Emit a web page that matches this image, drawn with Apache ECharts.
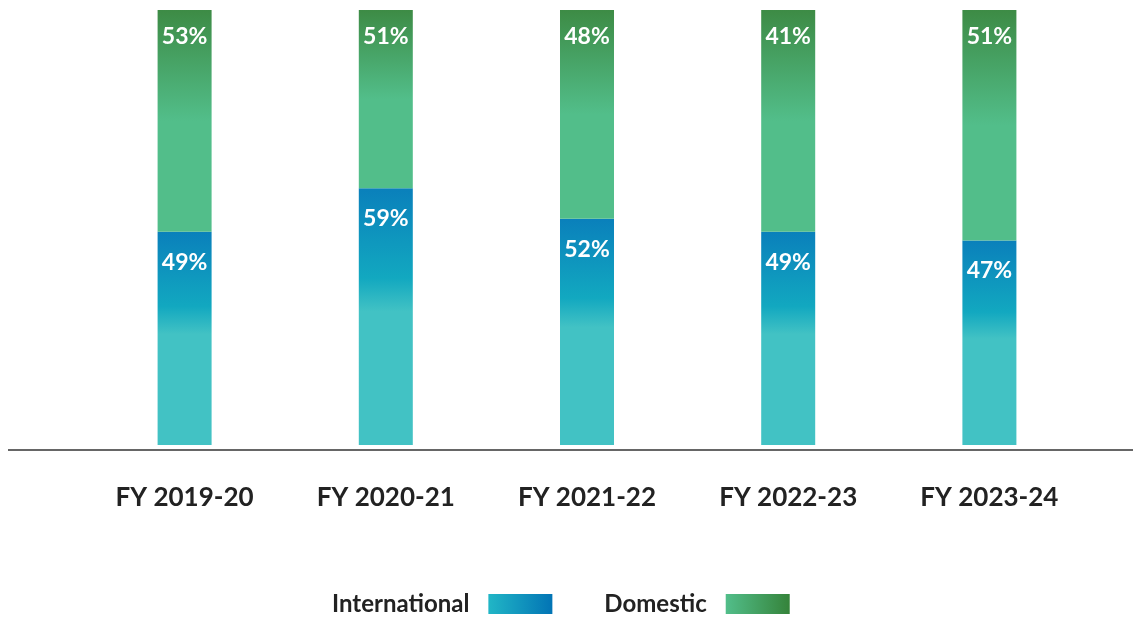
<!DOCTYPE html>
<html>
<head>
<meta charset="utf-8">
<script src="https://cdn.jsdelivr.net/npm/echarts@6/dist/echarts.min.js"></script>
<style>
  html, body { margin: 0; padding: 0; background: #fff; }
  #main { width: 1133px; height: 617px; }
</style>
</head>
<body>
<div id="main"></div>
<script>
// fiscal years
let years = ['FY 2019-20', 'FY 2020-21', 'FY 2021-22', 'FY 2022-23', 'FY 2023-24'];
// international share (drawn height of the lower part)
let international = [49, 59, 52, 49, 47];
// domestic share as printed on the bars
let domestic = [53, 51, 48, 41, 51];

let font = 'Lato, "Noto Sans", sans-serif';

function vgrad(stops) {
  return new echarts.graphic.LinearGradient(0, 0, 0, 1, stops);
}
function hgrad(a, b) {
  return new echarts.graphic.LinearGradient(0, 0, 1, 0, [
    { offset: 0, color: a }, { offset: 1, color: b }
  ]);
}

let intlFill = vgrad([
  { offset: 0, color: '#0a80bb' },
  { offset: 0.35, color: '#12a8c0' },
  { offset: 0.48, color: '#42c2c4' },
  { offset: 1, color: '#42c2c4' }
]);
let domFill = vgrad([
  { offset: 0, color: '#3d8b45' },
  { offset: 0.5, color: '#52be8a' },
  { offset: 1, color: '#52be8a' }
]);

let mychart = echarts.init(document.getElementById('main'));
mychart.setOption({
  animation: false,
  grid: { left: 84, right: 43, top: 10, bottom: 172 },
  xAxis: {
    type: 'category',
    data: years,
    axisLine: { show: false },
    axisTick: { show: false },
    axisLabel: {
      margin: 40,
      fontFamily: font,
      fontWeight: 'bold',
      fontSize: 26,
      color: '#222'
    }
  },
  yAxis: {
    type: 'value',
    min: 0,
    max: 100,
    show: false
  },
  legend: {
    top: 587,
    left: 327,
    align: 'right',
    itemGap: 52,
    itemWidth: 64,
    itemHeight: 20,
    icon: 'rect',
    textStyle: {
      fontFamily: font,
      fontWeight: 'bold',
      fontSize: 24,
      color: '#222',
      padding: [0, 14, 0, 0]
    },
    data: [
      { name: 'International', itemStyle: { color: hgrad('#21b6c6', '#0274b5') } },
      { name: 'Domestic', itemStyle: { color: hgrad('#52be8a', '#35833a') } }
    ]
  },
  graphic: [{
    type: 'line',
    shape: { x1: 8, y1: 450, x2: 1133, y2: 450 },
    style: { stroke: '#333', lineWidth: 1.5 }
  }],
  series: [
    {
      name: 'International',
      type: 'bar',
      stack: 'share',
      barWidth: 54,
      data: international,
      itemStyle: { color: intlFill },
      label: {
        show: true,
        position: 'insideTop',
        distance: 19,
        formatter: p => p.value + '%',
        fontFamily: font,
        fontWeight: 'bold',
        fontSize: 23,
        color: '#fff'
      }
    },
    {
      name: 'Domestic',
      type: 'bar',
      stack: 'share',
      barWidth: 54,
      data: international.map(v => 100 - v),
      itemStyle: { color: domFill },
      label: {
        show: true,
        position: 'insideTop',
        distance: 15,
        formatter: p => domestic[p.dataIndex] + '%',
        fontFamily: font,
        fontWeight: 'bold',
        fontSize: 23,
        color: '#fff'
      }
    }
  ]
});
</script>
</body>
</html>
